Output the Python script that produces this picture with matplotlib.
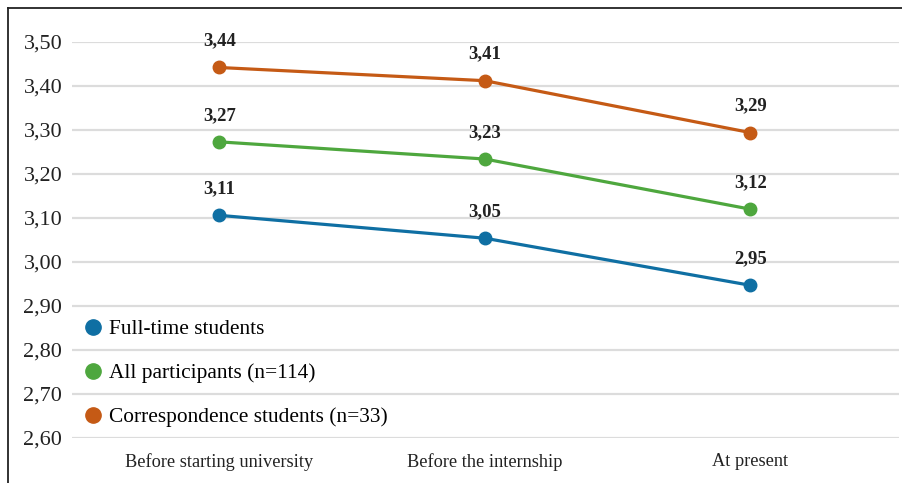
import matplotlib.pyplot as plt
from matplotlib.lines import Line2D

plt.rcParams['font.family'] = ['Liberation Serif', 'DejaVu Serif']

categories = ["Before starting university", "Before the internship", "At present"]
full_time = [3.106, 3.054, 2.947]
all_participants = [3.273, 3.234, 3.120]
correspondence = [3.442, 3.412, 3.294]

series_names = ["Full-time students", "All participants (n=114)", "Correspondence students (n=33)"]
colors = ["#0f6fa3", "#4ea73e", "#c55a15"]

fig = plt.figure(figsize=(9.03, 4.83), dpi=100)
ax = fig.add_axes([0.0797, 0.0932, 0.916, 0.8199])

x = list(range(len(categories)))
for vals, col in zip([full_time, all_participants, correspondence], colors):
    ax.plot(x, vals, color=col, lw=2.3, marker="o", ms=9, zorder=3)
    for xi, v in zip(x, vals):
        ax.annotate(f"{v:.2f}".replace(".", ","), (xi, v), xytext=(0, 13),
                    textcoords="offset points", ha="center", va="bottom",
                    fontsize=13.5, fontweight="bold", color="#222222",
                    annotation_clip=False)

ax.set_xlim(-0.555, 2.56)
ax.set_ylim(2.6, 3.5)
yt = [2.6 + 0.1 * i for i in range(10)]
ax.set_yticks(yt)
ax.set_yticklabels([f"{t:.2f}".replace(".", ",") for t in yt], fontsize=16, color="#222222")
ax.set_xticks(x)
ax.set_xticklabels(categories, fontsize=13.2, color="#222222")
ax.tick_params(axis="y", length=0, pad=7)
ax.tick_params(axis="x", length=0, pad=11)
ax.grid(axis="y", color="#dcdcdc", lw=1.6)
ax.set_axisbelow(True)
for s in ax.spines.values():
    s.set_visible(False)

handles = [Line2D([], [], color=c, marker="o", ls="none", ms=11) for c in colors]
ax.legend(handles, series_names, loc="lower left", bbox_to_anchor=(0.0, 0.0),
          frameon=False, fontsize=15.4, handletextpad=0.25, labelspacing=1.12,
          borderaxespad=0.3, handlelength=1.0, borderpad=0.2)

# border of the original frame (top and left only visible)
fig.add_artist(Line2D([0.0089, 1.0], [0.9834, 0.9834], color="#222222", lw=1.3))
fig.add_artist(Line2D([0.0089, 0.0089], [0.0, 0.9834], color="#222222", lw=1.3))

fig.savefig("out.png", dpi=100)
